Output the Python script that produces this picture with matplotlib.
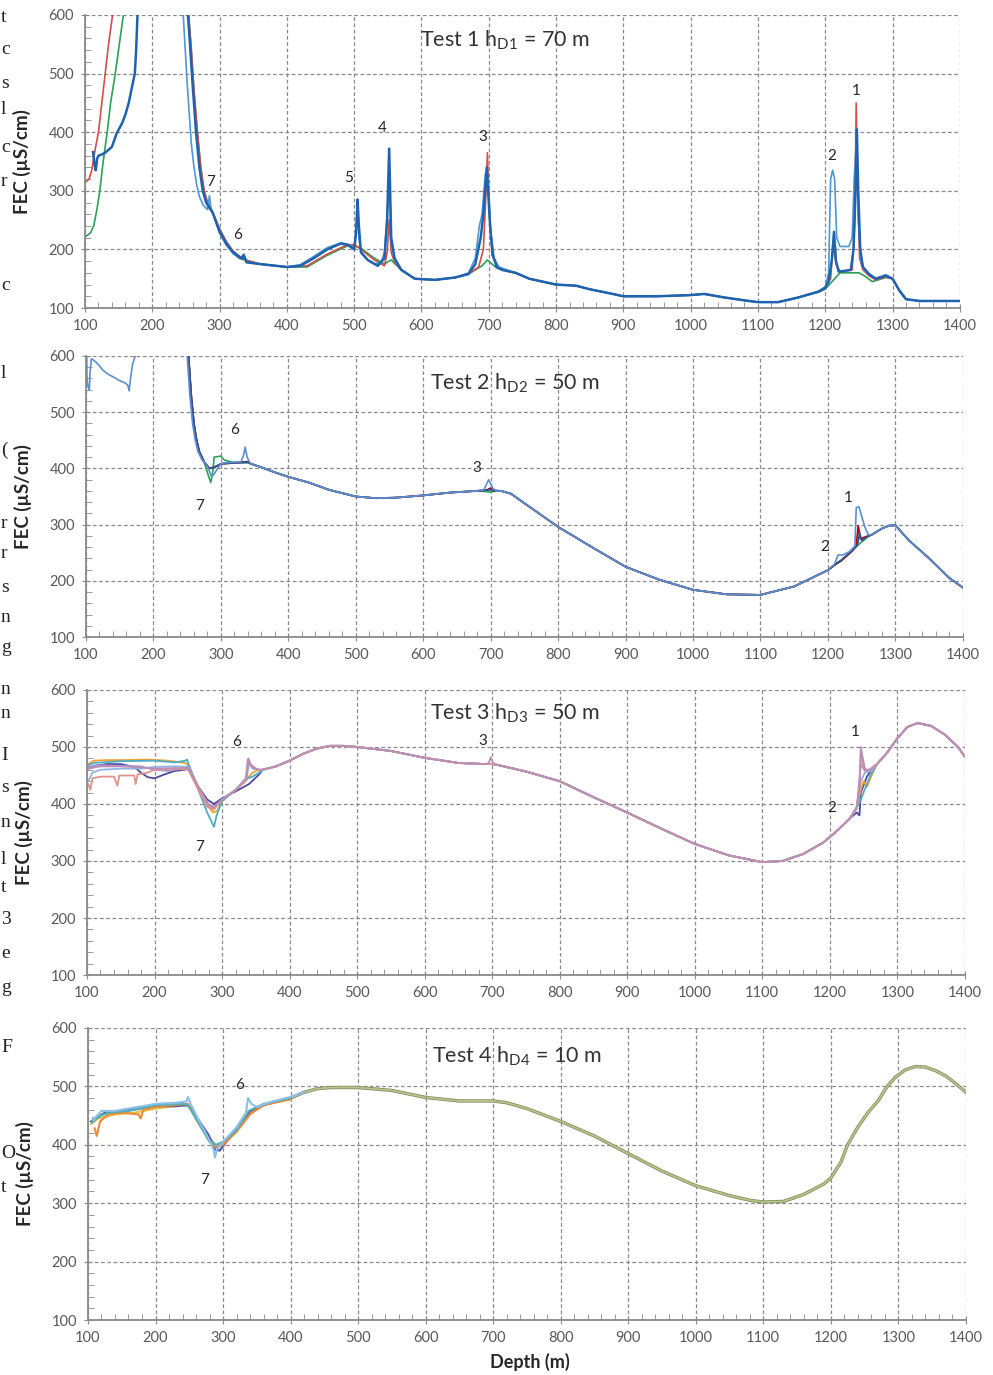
import numpy as np
import matplotlib.pyplot as plt
from matplotlib.ticker import MultipleLocator

plt.rcParams['font.family'] = ['Lato', 'DejaVu Sans']
plt.rcParams['mathtext.fontset'] = 'custom'
plt.rcParams['mathtext.rm'] = 'Lato'

# ---------------- Test 1 ----------------
p1_darkblue = [(112, 366), (114, 345), (116, 335), (118, 355), (120, 360), (125, 362), (130, 365), (140, 375),
               (147, 398), (155, 415), (160, 430), (165, 450), (170, 478), (174, 500), (176, 540), (178, 600),
               (180, 700), (250, 700), (253, 600), (256, 550), (260, 480), (265, 400), (270, 340), (275, 300),
               (280, 280), (290, 262), (300, 230), (310, 210), (320, 195), (333, 184), (336, 190), (340, 178),
               (360, 175), (400, 170), (420, 172), (440, 185), (460, 200), (480, 210), (490, 208), (500, 200),
               (503, 230), (505, 285), (507, 240), (510, 195), (520, 182), (535, 172), (545, 185), (549, 250),
               (552, 372), (555, 220), (560, 185), (570, 165), (590, 150), (620, 148), (650, 152), (670, 158),
               (680, 175), (688, 220), (692, 260), (697, 340), (702, 240), (706, 190), (712, 170), (720, 165),
               (740, 160), (760, 150), (800, 140), (830, 138), (850, 132), (880, 125), (900, 120), (950, 120),
               (1000, 122), (1020, 124), (1050, 118), (1080, 113), (1100, 110), (1130, 110), (1160, 118),
               (1190, 128), (1200, 135), (1205, 145), (1210, 185), (1213, 230), (1216, 180), (1220, 162),
               (1238, 165), (1242, 200), (1245, 300), (1247, 405), (1249, 300), (1252, 200), (1256, 170),
               (1265, 158), (1275, 150), (1290, 155), (1300, 150), (1310, 130), (1320, 115), (1340, 112),
               (1400, 112)]
p1_lightblue = [(244, 700), (246, 600), (248, 560), (252, 480), (255, 430), (258, 380), (262, 340), (266, 310),
                (270, 290), (276, 275), (282, 268), (285, 292), (287, 272), (290, 262), (300, 228), (310, 207),
                (320, 193), (330, 184), (336, 192), (340, 178), (360, 175), (400, 170), (420, 174), (440, 188),
                (460, 203), (480, 211), (490, 209), (500, 202), (503, 240), (505, 280), (507, 220), (510, 196),
                (520, 182), (530, 175), (540, 178), (545, 195), (549, 260), (552, 330), (555, 210), (560, 182),
                (570, 165), (590, 150), (620, 148), (650, 152), (670, 160), (680, 185), (686, 240), (690, 260),
                (695, 330), (699, 320), (703, 230), (708, 185), (715, 170), (740, 160), (760, 150), (800, 140),
                (830, 138), (850, 132), (880, 125), (900, 120), (950, 120), (1000, 122), (1020, 124), (1050, 118),
                (1080, 113), (1100, 110), (1130, 110), (1160, 118), (1190, 128), (1200, 135), (1205, 160),
                (1208, 320), (1211, 335), (1214, 320), (1217, 220), (1222, 205), (1235, 205), (1240, 220),
                (1243, 320), (1246, 380), (1249, 250), (1253, 180), (1258, 165), (1265, 158), (1275, 150),
                (1290, 157), (1300, 150), (1310, 130), (1320, 115), (1340, 112), (1400, 112)]
p1_red = [(101, 315), (106, 320), (110, 335), (115, 370), (120, 400), (125, 450), (130, 500), (135, 550),
          (141, 600), (146, 700), (250, 700), (254, 600), (258, 540), (262, 470), (267, 400), (272, 340),
          (277, 300), (282, 280), (290, 262), (300, 235), (310, 213), (320, 197), (335, 183), (360, 175),
          (400, 170), (430, 172), (460, 192), (490, 208), (500, 208), (510, 200), (530, 182), (545, 172),
          (549, 195), (552, 250), (555, 195), (560, 178), (570, 165), (590, 150), (620, 148), (650, 152),
          (670, 158), (685, 170), (692, 200), (696, 300), (698, 365), (701, 260), (705, 190), (712, 172),
          (720, 165), (740, 160), (760, 150), (800, 140), (830, 138), (850, 132), (880, 125), (900, 120),
          (950, 120), (1000, 122), (1020, 124), (1050, 118), (1080, 113), (1100, 110), (1130, 110), (1160, 118),
          (1190, 128), (1200, 135), (1208, 150), (1212, 210), (1216, 175), (1222, 162), (1240, 165),
          (1244, 250), (1246, 450), (1248, 320), (1251, 185), (1256, 165), (1265, 155), (1275, 148),
          (1290, 153), (1300, 150), (1310, 130), (1320, 115), (1340, 112), (1400, 112)]
p1_green = [(101, 222), (108, 228), (113, 240), (118, 270), (122, 300), (127, 350), (133, 400), (138, 450),
            (145, 500), (151, 550), (157, 600), (162, 700), (250, 700), (254, 600), (258, 540), (262, 470),
            (267, 400), (272, 340), (277, 300), (282, 280), (290, 262), (300, 235), (310, 213), (320, 197),
            (335, 183), (360, 175), (400, 170), (430, 170), (460, 190), (490, 206), (500, 207), (510, 202),
            (530, 185), (545, 175), (555, 182), (560, 176), (570, 165), (590, 150), (620, 148), (650, 152),
            (670, 158), (690, 172), (698, 182), (705, 175), (712, 168), (720, 165), (740, 160), (760, 150),
            (800, 140), (830, 138), (850, 132), (880, 125), (900, 120), (950, 120), (1000, 122), (1020, 124),
            (1050, 118), (1080, 113), (1100, 110), (1130, 110), (1160, 118), (1190, 127), (1200, 132),
            (1210, 145), (1222, 160), (1250, 160), (1258, 155), (1270, 145), (1290, 152), (1300, 150),
            (1310, 130), (1320, 115), (1340, 112), (1400, 112)]
p1_marks = [("7", 286, 315), ("6", 326, 225), ("5", 491, 322), ("4", 542, 407), ("3", 691, 392),
            ("2", 1209, 359), ("1", 1246, 470)]

# ---------------- Test 2 ----------------
p2_base1 = [(345, 408), (360, 402), (380, 393), (400, 385), (430, 375), (460, 362), (500, 350), (530, 347),
            (560, 348), (600, 352), (640, 357), (680, 360)]
p2_base2 = [(715, 360), (730, 355), (750, 338), (800, 296), (850, 260), (900, 225), (950, 202), (1000, 184),
            (1050, 176), (1100, 175), (1150, 190), (1200, 219)]
p2_base3 = [(1265, 282), (1280, 293), (1290, 298), (1300, 299), (1320, 272), (1350, 240), (1380, 205),
            (1400, 188)]
p2_lb_start = [(101, 610), (101.5, 560), (103, 545), (105, 540), (106, 570), (108, 595), (112, 592),
               (118, 585), (125, 575), (132, 568), (140, 563), (150, 556), (158, 552), (162, 548), (164, 538),
               (166, 560), (169, 585), (173, 600), (175, 620), (248, 700), (250, 600), (254, 530), (258, 480),
               (262, 450), (266, 430), (272, 415), (278, 408), (283, 395), (286, 385), (290, 390), (295, 400),
               (300, 408), (305, 410), (320, 411), (330, 412), (334, 425), (336, 438), (339, 420), (343, 410)]
p2_lb_p3 = [(690, 362), (697, 380), (703, 365), (708, 360)]
p2_lb_p1 = [(1210, 230), (1215, 246), (1222, 246), (1232, 252), (1240, 262), (1242, 330), (1246, 332),
            (1250, 315), (1255, 295), (1260, 282)]
p2_red_start = [(250, 700), (252, 600), (256, 530), (260, 480), (264, 450), (268, 430), (275, 412), (283, 400),
                (290, 402), (300, 408), (320, 410), (340, 412)]
p2_red_p3 = [(695, 362), (700, 365), (705, 360)]
p2_red_p1 = [(1210, 228), (1220, 236), (1235, 252), (1242, 262), (1245, 298), (1248, 275), (1255, 278),
             (1260, 280)]
p2_green_start = [(250, 700), (252, 600), (256, 530), (260, 480), (264, 450), (268, 430), (275, 412), (282, 385),
                  (285, 375), (288, 395), (290, 420), (300, 422), (305, 415), (320, 410), (340, 410)]
p2_green_p3 = [(700, 358), (708, 360)]
p2_green_p1 = [(1210, 228), (1220, 236), (1235, 252), (1245, 264), (1255, 274), (1260, 279)]
p2_navy_start = [(250, 700), (252, 600), (256, 530), (260, 480), (264, 450), (268, 430), (275, 412), (283, 400),
                 (290, 402), (300, 408), (320, 410), (340, 411)]
p2_navy_p3 = [(700, 362)]
p2_navy_p1 = [(1210, 229), (1220, 237), (1235, 253), (1244, 265), (1247, 285), (1250, 272), (1260, 280)]
p2_marks = [("6", 321, 468), ("7", 269, 333), ("3", 680, 401), ("1", 1230, 347), ("2", 1195, 260)]

# ---------------- Test 3 ----------------
p3_base1 = [(360, 460), (380, 466), (400, 476), (420, 488), (440, 497), (460, 502), (480, 502), (500, 500),
            (550, 493), (600, 481), (650, 472), (690, 470)]
p3_base2 = [(710, 468), (750, 457), (800, 440), (850, 412), (900, 385), (950, 357), (1000, 330), (1050, 310),
            (1100, 298), (1130, 300), (1160, 312), (1190, 332), (1210, 352), (1230, 375)]
p3_base3 = [(1270, 470), (1285, 490), (1300, 515), (1315, 535), (1330, 542), (1350, 537), (1370, 522),
            (1390, 500), (1400, 483)]
p3_orange_start = [(102, 470), (110, 476), (130, 477), (160, 477), (190, 478), (220, 476), (245, 472), (250, 468),
                   (265, 430), (278, 398), (287, 385), (293, 388), (300, 405), (315, 420), (330, 435), (338, 445),
                   (345, 455), (355, 460)]
p3_teal_start = [(102, 468), (110, 472), (150, 475), (200, 476), (230, 473), (246, 476), (248, 478), (252, 465),
                 (265, 425), (278, 385), (288, 360), (292, 380), (300, 405), (320, 425), (338, 445), (345, 448),
                 (355, 455)]
p3_navy_start = [(102, 462), (110, 467), (130, 470), (150, 470), (170, 465), (180, 455), (190, 447), (200, 445),
                 (215, 452), (230, 458), (245, 460), (250, 462), (265, 430), (278, 408), (288, 400), (300, 410),
                 (320, 422), (340, 435), (355, 452)]
p3_salmon_start = [(102, 435), (105, 425), (108, 445), (120, 448), (140, 448), (145, 432), (148, 450), (170, 450),
                   (172, 435), (175, 452), (190, 455), (200, 460), (230, 462), (250, 460), (265, 425), (278, 395),
                   (288, 390), (300, 408), (320, 425), (335, 440), (338, 478), (342, 470), (350, 462), (355, 460)]
p3_lightblue_start = [(102, 440), (108, 455), (120, 460), (150, 462), (180, 462), (200, 465), (230, 466),
                      (250, 465), (265, 428), (278, 400), (288, 392), (300, 408), (320, 425), (336, 445),
                      (340, 470), (346, 462), (355, 460)]
p3_lavender_start = [(102, 465), (120, 468), (150, 467), (180, 466), (200, 460), (220, 458), (240, 462), (250, 464),
                     (265, 428), (278, 400), (288, 393), (300, 408), (320, 424), (336, 445), (339, 475), (345, 463),
                     (355, 460)]
p3_mauve_start = [(102, 462), (120, 466), (150, 466), (180, 464), (200, 462), (230, 463), (250, 463), (265, 430),
                  (280, 400), (288, 395), (300, 408), (320, 424), (336, 446), (339, 480), (344, 465), (355, 460)]
p3_peak3 = [(700, 470)]
p3_mauve_p3 = [(695, 472), (698, 482), (702, 471)]
p3_orange_p1 = [(1240, 392), (1245, 420), (1250, 440), (1255, 430), (1262, 450)]
p3_teal_p1 = [(1240, 393), (1245, 405), (1260, 450)]
p3_navy_p1 = [(1240, 385), (1244, 380), (1246, 420), (1255, 448), (1265, 465)]
p3_salmon_p1 = [(1240, 395), (1244, 420), (1246, 490), (1250, 465), (1256, 458), (1265, 466)]
p3_lightblue_p1 = [(1240, 392), (1246, 440), (1252, 455), (1262, 458)]
p3_lavender_p1 = [(1240, 394), (1246, 470), (1252, 458), (1262, 462)]
p3_mauve_p1 = [(1240, 395), (1244, 430), (1246, 500), (1249, 480), (1252, 462), (1258, 458), (1265, 465)]
p3_marks = [("6", 322, 509), ("7", 266, 325), ("3", 686, 510), ("1", 1237, 526), ("2", 1203, 393)]

# ---------------- Test 4 ----------------
p4_olive = [(400, 480), (420, 490), (440, 496), (460, 498), (500, 498), (550, 493), (600, 481), (650, 475),
            (700, 475), (720, 472), (750, 462), (800, 440), (850, 415), (900, 385), (950, 355), (1000, 330),
            (1050, 313), (1080, 305), (1100, 302), (1130, 303), (1160, 315), (1190, 333), (1200, 343),
            (1215, 370), (1225, 400), (1240, 430), (1255, 455), (1270, 475), (1283, 499), (1295, 515),
            (1310, 528), (1325, 534), (1340, 533), (1355, 527), (1370, 518), (1385, 505), (1400, 490)]
p4_lightblue = [(108, 442), (112, 448), (120, 458), (140, 458), (160, 462), (180, 466), (200, 470), (230, 472),
                (246, 474), (248, 482), (252, 470), (265, 440), (278, 412), (286, 392), (288, 378), (291, 392),
                (300, 405), (320, 430), (334, 455), (337, 480), (342, 470), (350, 465), (370, 473), (400, 482),
                (420, 490)]
p4_orange = [(110, 428), (113, 415), (118, 440), (130, 452), (150, 455), (175, 452), (178, 445), (182, 460),
             (200, 465), (230, 468), (248, 470), (262, 440), (278, 410), (290, 395), (300, 400), (320, 422),
             (340, 452), (360, 468), (400, 478)]
p4_navy = [(105, 440), (112, 445), (125, 455), (150, 458), (180, 465), (200, 466), (230, 466), (248, 468),
           (262, 445), (278, 418), (288, 392), (295, 390), (305, 405), (320, 428), (340, 458), (360, 468),
           (400, 480)]
p4_teal = [(106, 438), (115, 448), (130, 455), (160, 458), (200, 468), (240, 470), (248, 468), (265, 435),
           (280, 405), (290, 400), (300, 405), (320, 425), (338, 458), (360, 470), (400, 480)]
p4_gold = [(105, 436), (115, 445), (140, 452), (170, 455), (200, 462), (240, 468), (250, 465), (265, 438),
           (280, 408), (290, 396), (300, 403), (320, 425), (340, 455), (360, 468), (400, 478)]
p4_gray = [(107, 445), (120, 452), (140, 456), (170, 460), (200, 465), (240, 470), (250, 467), (265, 440),
           (280, 412), (290, 398), (305, 408), (325, 432), (340, 457), (370, 472), (400, 480)]
p4_marks = [("6", 325, 502), ("7", 272, 340)]

titles = ["Test 1 h$_{\\mathrm{D1}}$ = 70 m", "Test 2 h$_{\\mathrm{D2}}$ = 50 m",
          "Test 3 h$_{\\mathrm{D3}}$ = 50 m", "Test 4 h$_{\\mathrm{D4}}$ = 10 m"]
title_pos = [(0.383, 0.915), (0.392, 0.904), (0.391, 0.919), (0.392, 0.904)]

# letters of the neighbouring text column showing at the left edge
side_text = [(17, "t"), (50, "c"), (83, "s"), (110, "l"), (147, "c"), (182, "r"), (285, "c"),
             (373, "l"), (450, "("), (523, "r"), (553, "r"), (588, "s"), (617, "n"), (648, "g"),
             (690, "n"), (713, "n"), (755, "I"), (787, "s"), (823, "n"), (860, "l"), (888, "t"),
             (920, "3"), (953, "e"), (988, "g"), (1047, "F"), (1153, "O"), (1187, "t")]


def build(*segs):
    pts = np.array([p for s in segs for p in s], dtype=float)
    return pts[:, 0], pts[:, 1]


fig = plt.figure(figsize=(9.93, 13.75), dpi=100)
rects = [[0.0856, 0.776, 0.881, 0.2131], [0.0866, 0.5367, 0.883, 0.2044],
         [0.0876, 0.2909, 0.884, 0.2073], [0.0886, 0.040, 0.884, 0.2124]]
axes = [fig.add_axes(r) for r in rects]

for ax in axes:
    ax.set_xlim(100, 1400)
    ax.set_ylim(100, 600)
    ax.xaxis.set_major_locator(MultipleLocator(100))
    ax.yaxis.set_major_locator(MultipleLocator(100))
    ax.xaxis.set_minor_locator(MultipleLocator(20))
    ax.yaxis.set_minor_locator(MultipleLocator(20))
    ax.grid(True, which="major", color="#8a8a8a", linestyle=(0, (3, 2)), linewidth=0.9)
    ax.set_axisbelow(True)
    for s in ["top", "right"]:
        ax.spines[s].set_visible(False)
    for s in ["left", "bottom"]:
        ax.spines[s].set_color("#8a8a8a")
        ax.spines[s].set_linewidth(1.3)
    ax.tick_params(which="major", direction="inout", length=6, color="#8a8a8a", labelsize=10.5,
                   labelcolor="#595959", pad=5)
    ax.tick_params(which="minor", direction="in", length=4, color="#8a8a8a")
    ax.set_ylabel("FEC (µS/cm)", fontsize=13.5, fontweight="bold", color="#262626")
    ax.yaxis.set_label_coords(-0.062, 0.5)

# Test 1
ax = axes[0]
for pts, c, lw in [(p1_green, "#2ca05a", 1.2), (p1_red, "#d0504a", 1.2),
                   (p1_lightblue, "#4f98d0", 1.2), (p1_darkblue, "#1f63b0", 1.8)]:
    x, y = build(pts)
    ax.plot(x, y, color=c, lw=lw)
for t, x, y in p1_marks:
    ax.text(x, y, t, fontsize=11, color="#262626", ha="center", va="center")

# Test 2
ax = axes[1]
x, y = build(p2_green_start, p2_base1, p2_green_p3, p2_base2, p2_green_p1, p2_base3)
ax.plot(x, y, color="#2ca05a", lw=1.2)
x, y = build(p2_red_start, p2_base1, p2_red_p3, p2_base2, p2_red_p1, p2_base3)
ax.plot(x, y, color="#c00000", lw=1.3)
x, y = build(p2_navy_start, p2_base1, p2_navy_p3, p2_base2, p2_navy_p1, p2_base3)
ax.plot(x, y, color="#2f5597", lw=1.3)
x, y = build(p2_lb_start, p2_base1, p2_lb_p3, p2_base2, p2_lb_p1, p2_base3)
ax.plot(x, y, color="#5b8fd0", lw=1.2)
for t, x, y in p2_marks:
    ax.text(x, y, t, fontsize=11, color="#262626", ha="center", va="center")

# Test 3
ax = axes[2]
p3_series = [(p3_navy_start, p3_peak3, p3_navy_p1, "#4b4aa0"),
             (p3_orange_start, p3_peak3, p3_orange_p1, "#f0a030"),
             (p3_teal_start, p3_peak3, p3_teal_p1, "#4bacc6"),
             (p3_lightblue_start, p3_peak3, p3_lightblue_p1, "#8db4e2"),
             (p3_lavender_start, p3_peak3, p3_lavender_p1, "#a994cc"),
             (p3_salmon_start, p3_peak3, p3_salmon_p1, "#e0928c"),
             (p3_mauve_start, p3_mauve_p3, p3_mauve_p1, "#bb8fb8")]
for start, pk3, pk1, c in p3_series:
    x, y = build(start, p3_base1, pk3, p3_base2, pk1, p3_base3)
    ax.plot(x, y, color=c, lw=1.3)
for t, x, y in p3_marks:
    ax.text(x, y, t, fontsize=11, color="#262626", ha="center", va="center")

# Test 4
ax = axes[3]
x, y = build(p4_olive)
ax.plot(x, y, color="#7f8a5a", lw=2.4)
ax.plot(x, y, color="#b8c48a", lw=1.3)
for pts, c in [(p4_gold, "#e8c040"), (p4_gray, "#a0a0a0"), (p4_navy, "#5050a8"),
               (p4_orange, "#ed8a3a"), (p4_teal, "#50b0b8"), (p4_lightblue, "#8cc0e8")]:
    x, y = build(pts)
    ax.plot(x, y, color=c, lw=1.5)
for t, x, y in p4_marks:
    ax.text(x, y, t, fontsize=11, color="#262626", ha="center", va="center")

for ax, t, (tx, ty) in zip(axes, titles, title_pos):
    ax.text(tx, ty, t, transform=ax.transAxes, fontsize=15.5, color="#333333", ha="left", va="center")

fig.text(0.534, 0.0095, "Depth (m)", fontsize=13, fontweight="bold", color="#262626", ha="center", va="center")

for ypix, s in side_text:
    fig.text(0.001, 1 - ypix / 1375, s, fontsize=14, family="Liberation Serif", color="#222222",
             ha="left", va="center")

fig.savefig("out.png", dpi=100)
